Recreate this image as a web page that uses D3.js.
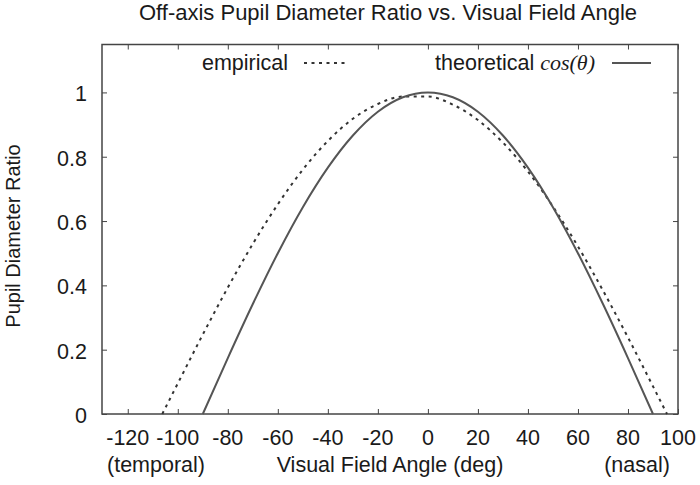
<!DOCTYPE html>
<html>
<head>
<meta charset="utf-8">
<script src="https://cdn.jsdelivr.net/npm/d3@7"></script>
<style>
  body { margin: 0; background: #fff; }
  text { font-family: "Liberation Sans", Arial, sans-serif; fill: #1a1a1a; }
</style>
</head>
<body>
<div class="chart"></div>
<script>
// angles (deg) and ratios
const empAngle = [-106.2, -100, -90, -80, -70, -60, -50, -40, -30, -20, -10, 0, 10, 20, 30, 40, 50, 60, 70, 80, 90, 95.6]
const empRatio = [0, 0.095, 0.247, 0.393, 0.529, 0.652, 0.760, 0.849, 0.918, 0.964, 0.987, 0.987, 0.962, 0.914, 0.844, 0.754, 0.645, 0.521, 0.384, 0.238, 0.086, 0]

const theoAngle = [-90, -80, -70, -60, -50, -40, -30, -20, -10, 0, 10, 20, 30, 40, 50, 60, 70, 80, 90]
const theoRatio = [0, 0.174, 0.342, 0.5, 0.643, 0.766, 0.866, 0.940, 0.985, 1, 0.985, 0.940, 0.866, 0.766, 0.643, 0.5, 0.342, 0.174, 0]

const xTicks = [-120, -100, -80, -60, -40, -20, 0, 20, 40, 60, 80, 100]
const yTicks = [0, 0.2, 0.4, 0.6, 0.8, 1]

const width = 700
const height = 485
const margin = { top: 44.5, right: 22, bottom: 71, left: 102 }
const fs = "21.5px"

const svg = d3.select(".chart")
  .append("svg")
  .attr("width", width)
  .attr("height", height)

const x = d3.scaleLinear()
  .domain([-130.3, 100])
  .range([margin.left, width - margin.right])

const y = d3.scaleLinear()
  .domain([0, 1.149])
  .range([height - margin.bottom, margin.top])

const frameColor = "#444"

// ticks (inside, mirrored on all sides)
const bottomAxis = d3.axisBottom(x).tickValues(xTicks).tickSize(-5).tickFormat("")
const topAxis = d3.axisTop(x).tickValues(xTicks).tickSize(-5).tickFormat("")
const leftAxis = d3.axisLeft(y).tickValues(yTicks).tickSize(-5).tickFormat("")
const rightAxis = d3.axisRight(y).tickValues(yTicks).tickSize(-5).tickFormat("")

svg.append("g").attr("transform", `translate(0,${y(0)})`).call(bottomAxis)
svg.append("g").attr("transform", `translate(0,${margin.top})`).call(topAxis)
svg.append("g").attr("transform", `translate(${margin.left},0)`).call(leftAxis)
svg.append("g").attr("transform", `translate(${width - margin.right},0)`).call(rightAxis)
svg.selectAll(".domain").remove()
svg.selectAll(".tick line").attr("stroke", frameColor).attr("stroke-width", 1)

// frame
svg.append("rect")
  .attr("x", margin.left)
  .attr("y", margin.top)
  .attr("width", x.range()[1] - x.range()[0])
  .attr("height", y.range()[0] - y.range()[1])
  .attr("fill", "none")
  .attr("stroke", frameColor)
  .attr("stroke-width", 1.5)

// tick labels
svg.selectAll(".xlab")
  .data(xTicks)
  .enter()
  .append("text")
    .attr("x", d => x(d))
    .attr("y", y(0) + 31)
    .attr("text-anchor", "middle")
    .style("font-size", fs)
    .text(d => d)

svg.selectAll(".ylab")
  .data(yTicks)
  .enter()
  .append("text")
    .attr("x", margin.left - 15)
    .attr("y", d => y(d) + 9)
    .attr("text-anchor", "end")
    .style("font-size", fs)
    .text(d => d)

// curves
const line = d3.line()
  .x(d => x(d[0]))
  .y(d => y(d[1]))
  .curve(d3.curveMonotoneX)

svg.append("path")
  .datum(empAngle.map((a, i) => [a, empRatio[i]]))
  .attr("d", line)
  .attr("fill", "none")
  .attr("stroke", "#333")
  .attr("stroke-width", 2)
  .attr("stroke-dasharray", "3,4.5")

svg.append("path")
  .datum(theoAngle.map((a, i) => [a, theoRatio[i]]))
  .attr("d", line)
  .attr("fill", "none")
  .attr("stroke", "#555")
  .attr("stroke-width", 2)

// legend
svg.append("text")
  .attr("x", 288)
  .attr("y", 70)
  .attr("text-anchor", "end")
  .style("font-size", fs)
  .text("empirical")

svg.append("line")
  .attr("x1", 304).attr("x2", 345)
  .attr("y1", 63).attr("y2", 63)
  .attr("stroke", "#333")
  .attr("stroke-width", 2)
  .attr("stroke-dasharray", "3,4.5")

const theoLabel = svg.append("text")
  .attr("x", 595)
  .attr("y", 70)
  .attr("text-anchor", "end")
  .style("font-size", fs)
theoLabel.append("tspan").text("theoretical ")
theoLabel.append("tspan")
  .style("font-family", "'Liberation Serif', 'DejaVu Serif', serif")
  .style("font-style", "italic")
  .style("font-size", "22px")
  .text("cos(θ)")

svg.append("line")
  .attr("x1", 612).attr("x2", 651)
  .attr("y1", 63).attr("y2", 63)
  .attr("stroke", "#555")
  .attr("stroke-width", 2)

// titles
svg.append("text")
  .attr("x", 388)
  .attr("y", 20)
  .attr("text-anchor", "middle")
  .style("font-size", "22px")
  .text("Off-axis Pupil Diameter Ratio vs. Visual Field Angle")

svg.append("text")
  .attr("x", 390)
  .attr("y", 472)
  .attr("text-anchor", "middle")
  .style("font-size", fs)
  .text("Visual Field Angle (deg)")

svg.append("text")
  .attr("x", 156)
  .attr("y", 472)
  .attr("text-anchor", "middle")
  .style("font-size", fs)
  .text("(temporal)")

svg.append("text")
  .attr("x", 637)
  .attr("y", 472)
  .attr("text-anchor", "middle")
  .style("font-size", fs)
  .text("(nasal)")

svg.append("text")
  .attr("transform", "translate(20,236) rotate(-90)")
  .attr("text-anchor", "middle")
  .style("font-size", "20px")
  .text("Pupil Diameter Ratio")
</script>
</body>
</html>
